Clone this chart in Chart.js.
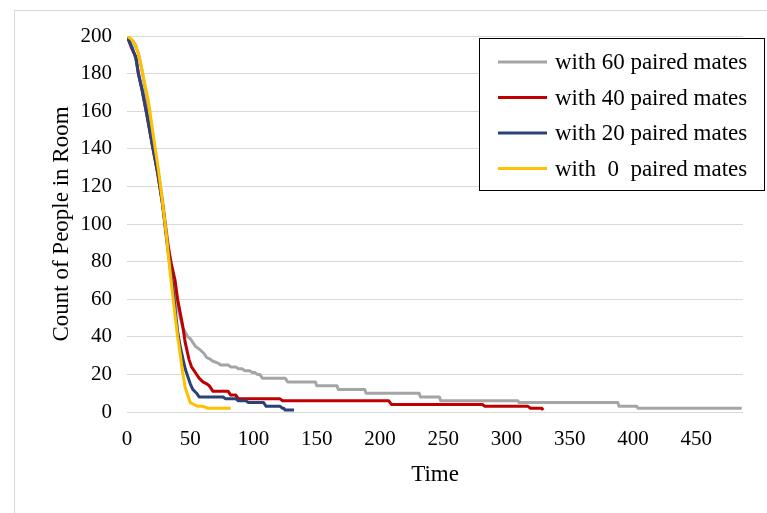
<!DOCTYPE html>
<html>
<head>
<meta charset="utf-8">
<script src="https://cdn.jsdelivr.net/npm/chart.js@4.4.1/dist/chart.umd.min.js"></script>
<style>
  body { margin: 0; background: #fff; }
</style>
</head>
<body>
<canvas id="roomChart" width="767" height="513"></canvas>
<script>
// time / count pairs
const grayTime = [0, 5, 9, 12, 16, 20, 24, 28, 32, 36, 40, 44, 48, 50, 52, 54, 56, 58, 61, 63, 66, 68, 72, 74, 80, 82, 86, 88, 91, 93, 97, 99, 101, 103, 105, 107, 125, 127, 149, 150, 166, 167, 188, 189, 231, 232, 247, 248, 309, 310, 388, 389, 403, 404, 486];
const grayCount = [200, 197, 191, 181, 165, 148, 131, 113, 92, 72, 56, 45, 40, 39, 37, 35, 34, 33, 31, 29, 28, 27, 26, 25, 25, 24, 24, 23, 23, 22, 22, 21, 21, 20, 20, 18, 18, 16, 16, 14, 14, 12, 12, 10, 10, 8, 8, 6, 6, 5, 5, 3, 3, 2, 2];

const redTime = [0, 4, 7, 9, 12, 16, 20, 24, 28, 32, 35, 38, 40, 42, 44, 46, 49, 51, 54, 57, 60, 63, 65, 68, 80, 82, 86, 88, 121, 123, 207, 209, 281, 283, 317, 319, 328, 329];
const redCount = [200, 193, 189, 180, 171, 157, 142, 128, 111, 90, 79, 70, 60, 53, 46, 37, 28, 24, 21, 18, 16, 15, 14, 11, 11, 9, 9, 7, 7, 6, 6, 4, 4, 3, 3, 2, 2, 1];

const blueTime = [0, 4, 7, 9, 12, 16, 20, 24, 28, 32, 36, 38, 40, 42, 44, 46, 48, 50, 52, 55, 57, 76, 78, 86, 88, 94, 96, 108, 110, 121, 123, 124, 125, 132];
const blueCount = [200, 194, 188, 180, 171, 157, 142, 128, 111, 88, 68, 55, 43, 35, 29, 23, 19, 15, 12, 10, 8, 8, 7, 7, 6, 6, 5, 5, 3, 3, 2, 2, 1, 1];

const yellowTime = [0, 4, 7, 11, 13, 17, 21, 25, 28, 31, 34, 37, 40, 42, 44, 46, 48, 50, 53, 56, 60, 64, 82];
const yellowCount = [200, 198, 195, 185, 178, 165, 146, 128, 112, 95, 75, 57, 40, 31, 21, 13, 9, 5, 4, 3, 3, 2, 2];

const seriesLabels = ['with 60 paired mates', 'with 40 paired mates', 'with 20 paired mates', 'with  0  paired mates'];
const seriesColors = ['#A5A5A5', '#C00000', '#264478', '#FFC000'];
const yTicks = [0, 20, 40, 60, 80, 100, 120, 140, 160, 180, 200];
const xTicks = [0, 50, 100, 150, 200, 250, 300, 350, 400, 450];

function toPoints(times, counts) {
    return times.map((t, i) => ({ x: t, y: counts[i] }));
}

const serif = '"Liberation Serif", "Times New Roman", serif';

// frame around the whole figure
const framePlugin = {
    id: 'frame',
    beforeDraw(chart) {
        const ctx = chart.ctx;
        ctx.save();
        ctx.fillStyle = '#fff';
        ctx.fillRect(0, 0, chart.width, chart.height);
        ctx.strokeStyle = '#D9D9D9';
        ctx.lineWidth = 1;
        ctx.strokeRect(14.5, 10.5, chart.width, chart.height);
        ctx.restore();
    }
};

// boxed legend sitting inside the plot
const boxLegend = {
    id: 'boxLegend',
    afterDraw(chart) {
        const ctx = chart.ctx;
        ctx.save();
        ctx.fillStyle = '#fff';
        ctx.fillRect(479.5, 38.5, 285, 152);
        ctx.strokeStyle = '#000';
        ctx.lineWidth = 1;
        ctx.strokeRect(479.5, 38.5, 285, 152);
        ctx.font = '23px ' + serif;
        ctx.textBaseline = 'middle';
        ctx.fillStyle = '#000';
        seriesLabels.forEach((label, i) => {
            const y = 62 + i * 35.5;
            ctx.strokeStyle = seriesColors[i];
            ctx.lineWidth = 3;
            ctx.beginPath();
            ctx.moveTo(498, y);
            ctx.lineTo(547, y);
            ctx.stroke();
            ctx.fillText(label, 555, y + 1);
        });
        ctx.restore();
    }
};

const datasets = [
    { label: seriesLabels[0], data: toPoints(grayTime, grayCount), borderColor: seriesColors[0], order: 4 },
    { label: seriesLabels[1], data: toPoints(redTime, redCount), borderColor: seriesColors[1], order: 3 },
    { label: seriesLabels[2], data: toPoints(blueTime, blueCount), borderColor: seriesColors[2], order: 2 },
    { label: seriesLabels[3], data: toPoints(yellowTime, yellowCount), borderColor: seriesColors[3], order: 1 }
].map(d => Object.assign(d, { borderWidth: 3, pointRadius: 0, tension: 0, fill: false, borderJoinStyle: 'round' }));

new Chart(document.getElementById('roomChart'), {
    type: 'line',
    data: { datasets: datasets },
    options: {
        responsive: false,
        animation: false,
        layout: { padding: { top: 36, right: 24, left: 0, bottom: 0 } },
        plugins: {
            legend: { display: false },
            tooltip: { enabled: false }
        },
        scales: {
            x: {
                type: 'linear',
                min: 0,
                max: 487,
                grid: { display: false },
                border: { display: false },
                afterBuildTicks(scale) {
                    scale.ticks = xTicks.map(v => ({ value: v }));
                },
                ticks: {
                    color: '#000',
                    padding: 7,
                    maxRotation: 0,
                    autoSkip: false,
                    font: { family: serif, size: 21 }
                },
                afterFit(scale) { scale.height = 101; },
                title: {
                    display: true,
                    text: 'Time',
                    color: '#000',
                    font: { family: serif, size: 23 },
                    padding: { top: 0, bottom: 24 }
                }
            },
            y: {
                min: 0,
                max: 200,
                grid: { color: '#D9D9D9', lineWidth: 1, drawTicks: false },
                border: { display: false },
                afterBuildTicks(scale) {
                    scale.ticks = yTicks.map(v => ({ value: v }));
                },
                ticks: {
                    color: '#000',
                    padding: 15,
                    font: { family: serif, size: 21 }
                },
                afterFit(scale) { scale.width = 127; },
                title: {
                    display: true,
                    text: 'Count of People in Room',
                    color: '#000',
                    font: { family: serif, size: 23 },
                    padding: { top: 48, bottom: 0 }
                }
            }
        }
    },
    plugins: [framePlugin, boxLegend]
});
</script>
</body>
</html>
